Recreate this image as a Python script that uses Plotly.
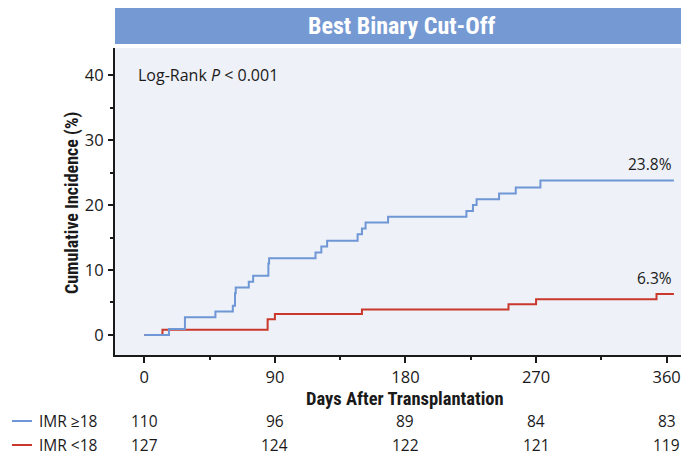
import plotly.graph_objects as go

# ---------------- data ----------------
blue_days = [0, 17, 28, 49, 61, 62.5, 63, 72, 75, 85.5, 86, 118, 122, 126, 147, 150, 152.5,
             168, 222, 226.5, 229, 244.5, 256, 273, 365]
blue_pct = [0, 0.9, 2.7, 3.6, 4.5, 6.4, 7.3, 8.2, 9.1, 11.0, 11.8, 12.7, 13.6, 14.5, 15.5, 16.4, 17.3,
            18.2, 19.1, 20.0, 20.9, 21.8, 22.7, 23.8, 23.8]

red_days = [0, 12.5, 85, 90, 150, 251, 270, 353, 365]
red_pct = [0, 0.8, 2.4, 3.2, 3.9, 4.7, 5.5, 6.3, 6.3]

risk_days = [0, 90, 180, 270, 360]
risk_blue = [110, 96, 89, 84, 83]
risk_red = [127, 124, 122, 121, 119]

series_names = ["IMR \u226518", "IMR <18"]
end_labels = ["23.8%", "6.3%"]
x_ticks = [0, 90, 180, 270, 360]
y_ticks = [0, 10, 20, 30, 40]

title_text = "Best Binary Cut-Off"
x_title = "Days After Transplantation"
y_title = "Cumulative Incidence (%)"

# ---------------- style ----------------
BLUE = "#6F97D6"
RED = "#C9382B"
BG = "#EEF1F8"
BANNER = "#7599D2"
INK = "#1a1a1a"
REG = "Open Sans, sans-serif"
BOLD = "Liberation Sans Narrow, Roboto Condensed, Roboto, sans-serif"

OFF = 8  # page body margin
PAGE_W, PAGE_H = 689, 456
W, H = PAGE_W - OFF, PAGE_H - OFF
P_LEFT, P_TOP, P_BOTTOM = 115, 48, 355
L = P_LEFT - OFF
T = P_TOP - OFF
B = H - (P_BOTTOM - OFF)
R = 0
plot_h = H - T - B
plot_w = W - L - R


def py(pix):  # page pixel y -> paper y
    return (P_BOTTOM - pix) / plot_h


def px(pix):  # page pixel x -> paper x
    return (pix - P_LEFT) / plot_w


fig = go.Figure()
fig.add_trace(go.Scatter(x=red_days, y=red_pct, mode="lines", line=dict(color=RED, width=2, shape="hv"),
                         name=series_names[1], showlegend=False, hoverinfo="skip"))
fig.add_trace(go.Scatter(x=blue_days, y=blue_pct, mode="lines", line=dict(color=BLUE, width=2, shape="hv"),
                         name=series_names[0], showlegend=False, hoverinfo="skip"))

annotations = []
annotations.append(dict(text="<b>" + title_text + "</b>", xref="paper", yref="paper", x=0.5, y=py(26),
                        xanchor="center", yanchor="middle", showarrow=False,
                        font=dict(family=BOLD, size=24, color="white")))
annotations.append(dict(text="Log-Rank <i>P</i> < 0.001", xref="paper", yref="y", x=px(136), y=40,
                        xanchor="left", yanchor="middle", showarrow=False,
                        font=dict(family=REG, size=16, color=INK)))
annotations.append(dict(text=end_labels[0], xref="paper", yref="y", x=px(674), y=blue_pct[-1],
                        xanchor="right", yanchor="bottom", yshift=3, showarrow=False,
                        font=dict(family=REG, size=15.5, color=INK)))
annotations.append(dict(text=end_labels[1], xref="paper", yref="y", x=px(674), y=red_pct[-1],
                        xanchor="right", yanchor="bottom", yshift=3, showarrow=False,
                        font=dict(family=REG, size=15.5, color=INK)))
annotations.append(dict(text="<b>" + x_title + "</b>", xref="x", yref="paper", x=180, y=py(399),
                        xanchor="center", yanchor="middle", showarrow=False,
                        font=dict(family=BOLD, size=18.5, color=INK)))
annotations.append(dict(text="<b>" + y_title + "</b>", xref="paper", yref="paper", x=px(72), y=py(203),
                        xanchor="center", yanchor="middle", textangle=-90, showarrow=False,
                        font=dict(family=BOLD, size=18, color=INK)))
for row_y, vals, name in [(421, risk_blue, series_names[0]), (445, risk_red, series_names[1])]:
    annotations.append(dict(text=name, xref="paper", yref="paper", x=px(37), y=py(row_y),
                            xanchor="left", yanchor="middle", showarrow=False,
                            font=dict(family=REG, size=15.5, color=INK)))
    for d, v in zip(risk_days, vals):
        annotations.append(dict(text=str(v), xref="x", yref="paper", x=d, y=py(row_y),
                                xanchor="center", yanchor="middle", showarrow=False,
                                font=dict(family=REG, size=15.5, color=INK)))

shapes = [
    dict(type="rect", xref="paper", yref="paper", x0=0, x1=1, y0=py(44), y1=py(8),
         fillcolor=BANNER, line=dict(width=0), layer="above"),
    dict(type="line", xref="paper", yref="paper", x0=px(12), x1=px(32), y0=py(421), y1=py(421),
         line=dict(color=BLUE, width=2)),
    dict(type="line", xref="paper", yref="paper", x0=px(12), x1=px(32), y0=py(445), y1=py(445),
         line=dict(color=RED, width=2)),
]

fig.update_layout(
    width=W, height=H, margin=dict(l=L, r=R, t=T, b=B),
    paper_bgcolor="white", plot_bgcolor=BG,
    annotations=annotations, shapes=shapes, showlegend=False,
    xaxis=dict(range=[-20.2, 375.4], tickvals=x_ticks, ticks="outside", ticklen=6, tickwidth=1.5,
               tickcolor=INK, showgrid=False, zeroline=False, showline=True, linecolor=INK, linewidth=2,
               tickfont=dict(family=REG, size=16.5, color=INK), ticklabelstandoff=0,
               minor=dict(dtick=45, tick0=0, ticks="outside", ticklen=3, tickcolor=INK, showgrid=False)),
    yaxis=dict(range=[-3.1, 44.2], tickvals=y_ticks, ticks="outside", ticklen=5, tickwidth=1.5,
               tickcolor=INK, showgrid=False, zeroline=False, showline=True, linecolor=INK, linewidth=2,
               tickfont=dict(family=REG, size=16.5, color=INK), ticklabelstandoff=1,
               minor=dict(dtick=5, tick0=0, ticks="outside", ticklen=3, tickcolor=INK, showgrid=False)),
)

fig.write_html("out.html")
